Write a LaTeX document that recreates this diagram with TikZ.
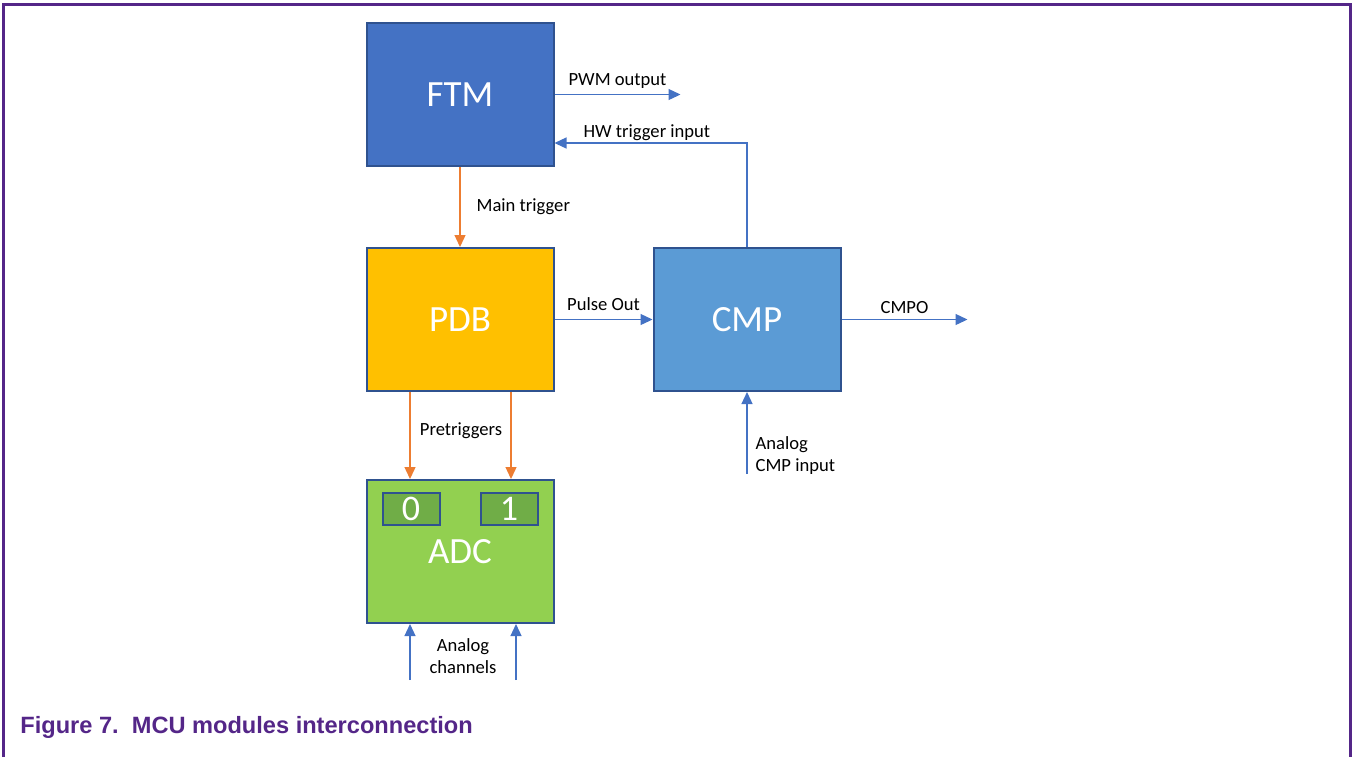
\documentclass[tikz,border=0pt]{standalone}
\usepackage{fontspec}
\setmainfont{Carlito}
\newfontfamily\capfont{Liberation Sans}
\usetikzlibrary{positioning}
\usetikzlibrary{arrows.meta}

\definecolor{ftmblue}{HTML}{4472C4}
\definecolor{cmpblue}{HTML}{5B9BD5}
\definecolor{pdbyellow}{HTML}{FFC000}
\definecolor{adcgreen}{HTML}{92D050}
\definecolor{changreen}{HTML}{70AD47}
\definecolor{edgeblue}{HTML}{2F528F}
\definecolor{trigorange}{HTML}{ED7D31}
\definecolor{nxppurple}{RGB}{84,38,136}

\tikzset{
	module/.style={draw=edgeblue, line width=1pt, minimum width=93.5pt, minimum height=71.5pt, inner sep=0pt, text=white, font=\fontsize{18.5}{20}\selectfont},
	channel/.style={draw=edgeblue, line width=1pt, fill=changreen, minimum width=28.5pt, minimum height=16pt, inner sep=0pt, text=white, font=\fontsize{18}{18}\selectfont},
	sig/.style={draw=ftmblue, line width=0.65pt, -{Triangle[length=6pt, width=5.5pt]}},
	trig/.style={sig, draw=trigorange},
	lbl/.style={font=\fontsize{9.3}{11}\selectfont, inner sep=1pt}
}

\begin{document}
\begin{tikzpicture}[x=0.5pt, y=-0.5pt]
	\useasboundingbox (0,0) rectangle (1352,757);
	\draw[nxppurple, line width=1.5pt] (3,757) -- (3,4) -- (1350.5,4) -- (1350.5,757);
	\node[module, fill=ftmblue] (FTM) at (460,94.5) {FTM};
	\node[module, fill=pdbyellow, below=40pt of FTM] (PDB) {PDB};
	\node[module, fill=cmpblue, right=49pt of PDB] (CMP) {CMP};
	\node[module, fill=adcgreen, below=43.5pt of PDB] (ADC) {ADC};
	\node[channel, below right=6.5pt and 8pt of ADC.north west] (ch0) {0};
	\node[channel, below left=6.5pt and 8pt of ADC.north east] (ch1) {1};
	\coordinate[right=63pt of FTM.east] (pwm);
	\coordinate[right=63pt of CMP.east] (cmpo);
	\coordinate[below=41pt of CMP.south] (cmpin);
	\coordinate (an0) at (410,680);
	\coordinate (an1) at (516,680);
	\draw[sig] (FTM.east) -- node[lbl, above=1.5pt] {PWM output} (pwm);
	\draw[sig] (CMP.north) |- node[lbl, pos=0.76, above] {HW trigger input} ([yshift=12pt]FTM.south east);
	\draw[trig] (FTM.south) -- node[lbl, right=7pt] {Main trigger} (PDB.north);
	\draw[sig] (PDB.east) -- node[lbl, above=3pt] {Pulse Out} (CMP.west);
	\draw[sig] (CMP.east) -- node[lbl, above=1.5pt] {CMPO} (cmpo);
	\draw[sig] (cmpin) -- node[lbl, pos=0.23, right=3pt, align=left] {Analog\\CMP input} (CMP.south);
	\draw[trig] ([xshift=-25pt]PDB.south) -- ([xshift=-25pt]ADC.north);
	\draw[trig] ([xshift=25.5pt]PDB.south) -- ([xshift=25.5pt]ADC.north);
	\node[lbl] (pretrig) at (461,431) {Pretriggers};
	\draw[sig] (an0) -- ([xshift=-25pt]ADC.south);
	\draw[sig] (an1) -- ([xshift=28pt]ADC.south);
	\node[lbl, align=center] (anchan) at (463,656) {Analog\\channels};
	\node[anchor=west, inner sep=0pt, text=nxppurple, font=\capfont\bfseries\fontsize{11.8}{14}\selectfont] (caption) at (20,727) {Figure 7.\ \ MCU modules interconnection};
\end{tikzpicture}
\end{document}
